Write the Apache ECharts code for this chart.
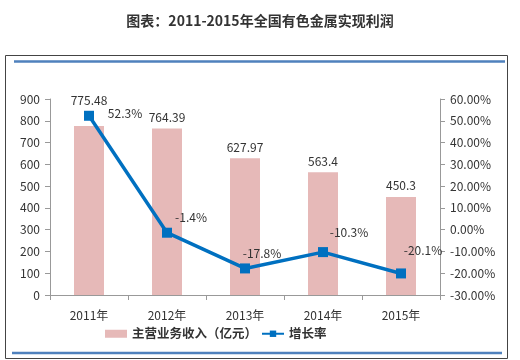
<!DOCTYPE html>
<html><head><meta charset="utf-8">
<script src="https://cdn.jsdelivr.net/npm/echarts@6/dist/echarts.min.js"></script>
<style>html,body{margin:0;padding:0;background:#fff}#c{width:520px;height:360px}</style>
</head><body><div id="c"></div>
<script>
const categories = ['2011年','2012年','2013年','2014年','2015年'];
const revenue = [775.48, 764.39, 627.97, 563.4, 450.3];
const growth = [52.3, -1.4, -17.8, -10.3, -20.1];
const revenueName = '主营业务收入（亿元）';
const growthName = '增长率';

const font = '"Noto Sans CJK SC", "Noto Sans", sans-serif';
const growthLabelOffsets = [[36, -2], [24, -15], [17, -15], [26, -20], [22, -23]];
const chart = echarts.init(document.getElementById('c'));
chart.setOption({
  animation: false,
  backgroundColor: '#fff',
  title: {
    text: '图表：2011-2015年全国有色金属实现利润',
    left: 'center', top: 9,
    textStyle: {fontFamily: font, fontSize: 14, fontWeight: 'bold', color: '#333'}
  },
  graphic: [
    {type: 'rect', shape: {x: 5.5, y: 55.5, width: 502, height: 303}, style: {fill: 'none', stroke: '#444', lineWidth: 1}},
    {type: 'line', shape: {x1: 14, y1: 61.5, x2: 505, y2: 61.5}, style: {stroke: '#4F81BD', lineWidth: 2.5}},
    {type: 'line', shape: {x1: 12, y1: 353, x2: 502, y2: 353}, style: {stroke: '#4F81BD', lineWidth: 2.5}}
  ],
  legend: {
    bottom: 15, left: 100, itemGap: 4,
    itemWidth: 22, itemHeight: 8,
    textStyle: {fontFamily: font, fontSize: 12.5, fontWeight: 'bold', color: '#333'},
    data: [
      {name: revenueName, icon: 'rect'},
      {name: growthName}
    ]
  },
  grid: {left: 50, right: 80, top: 99, bottom: 65},
  xAxis: {
    type: 'category', data: categories,
    axisLine: {lineStyle: {color: '#999'}},
    axisTick: {show: true, lineStyle: {color: '#999'}},
    axisLabel: {fontFamily: font, fontSize: 12, color: '#333', margin: 14}
  },
  yAxis: [
    {
      type: 'value', min: 0, max: 900, interval: 100,
      axisLine: {show: true, lineStyle: {color: '#999'}},
      axisTick: {show: true, lineStyle: {color: '#999'}},
      splitLine: {show: false},
      axisLabel: {fontFamily: font, fontSize: 12, color: '#333', margin: 10}
    },
    {
      type: 'value', min: -30, max: 60, interval: 10,
      axisLine: {show: true, lineStyle: {color: '#999'}},
      axisTick: {show: true, lineStyle: {color: '#999'}},
      splitLine: {show: false},
      axisLabel: {fontFamily: font, fontSize: 12, color: '#333', margin: 10,
        formatter: v => v.toFixed(2) + '%'}
    }
  ],
  series: [
    {
      name: revenueName, type: 'bar', barWidth: 30, yAxisIndex: 0,
      itemStyle: {color: '#E6B9B8'},
      data: revenue.map((v, i) => i === 0 ? {value: v, label: {distance: 20}} : v),
      label: {show: true, position: 'top', distance: 5, fontFamily: font, fontSize: 12, color: '#333'}
    },
    {
      name: growthName, type: 'line', yAxisIndex: 1,
      symbol: 'rect', symbolSize: 10,
      lineStyle: {color: '#0070C0', width: 3.5},
      itemStyle: {color: '#0070C0'},
      data: growth.map((v, i) => ({value: v, label: {offset: growthLabelOffsets[i]}})),
      label: {show: true, position: 'inside', fontFamily: font, fontSize: 12, color: '#333',
        formatter: p => p.value.toFixed(1) + '%'}
    }
  ]
});
</script></body></html>
